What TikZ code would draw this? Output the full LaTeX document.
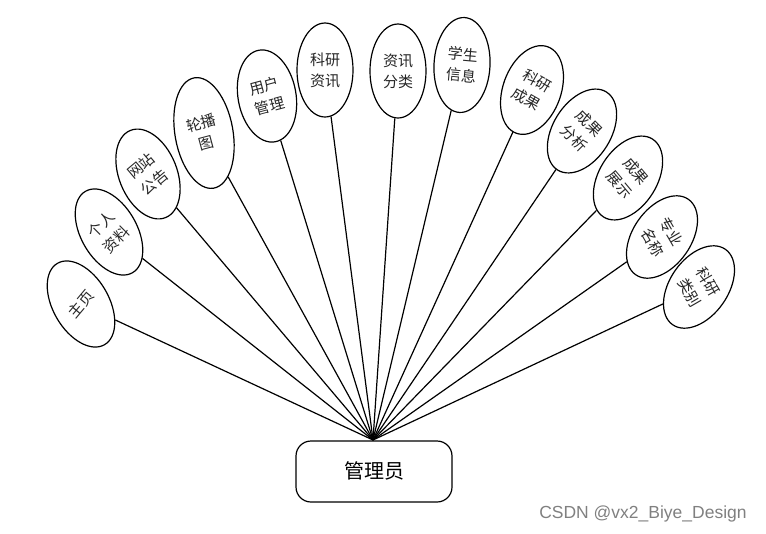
\documentclass[tikz,border=0pt]{standalone}
\usepackage{fontspec}
\newfontfamily\cjk{Noto Sans CJK SC}
\newfontfamily\wmfont{Liberation Sans}
\usetikzlibrary{shapes.geometric}
\tikzset{
  leaf/.style={draw=black, line width=1.2pt, ellipse, inner sep=0pt, fill=white},
  leaftext/.style={font=\cjk\fontsize{15}{21}\selectfont, text=black!85, align=center, inner sep=0pt},
  rootbox/.style={draw=black, line width=1.2pt, rounded corners=15pt, minimum width=156pt, minimum height=61pt, inner sep=0pt, fill=white},
  link/.style={line width=1.2pt, draw=black}
}
\begin{document}
\begin{tikzpicture}[x=1pt,y=-1pt]
\useasboundingbox (0,0) rectangle (766,533);
\node[rootbox] (root) at (374,471.5) {};
\node[font=\cjk\fontsize{20}{24}\selectfont, inner sep=0pt] (roottext) at (374,471) {管理员};
\coordinate (hub) at (373,440);
% leaves: name, position, size, tilt, text, text rotation
\foreach \n/\x/\y/\w/\h/\t/\txt/\r in {
  e1/81/304/56/94/30/{主页}/50,
  e2/109/232/56/94/30/{个人\\资料}/45,
  e3/148/174/58/94/22/{网站\\公告}/40,
  e4/204/133/58/112/10/{轮播\\图}/15,
  e5/267/96/58/93/10/{用户\\管理}/15,
  e6/325/70/56/94/0/{科研\\资讯}/0,
  e7/398/71/56/94/0/{资讯\\分类}/0,
  e8/462/65/56/95/-3/{学生\\信息}/-5,
  e9/532/90/58/92/-20/{科研\\成果}/-30,
  e10/582/131/58/92/-32/{成果\\分析}/-45,
  e11/628/178/58/92/-32/{成果\\展示}/-50,
  e12/662/237/58/92/-35/{专业\\名称}/-60,
  e13/699/287/58/92/-35/{科研\\类别}/-60}
{
  \node[leaf, minimum width=\w pt, minimum height=\h pt, rotate=\t] (\n) at (\x,\y) {};
  \node[leaftext, rotate=\r] (\n t) at (\x,\y) {\txt};
  \draw[link] (hub) -- (\n);
}
\node[font=\wmfont\fontsize{17.5}{20}\selectfont, text=black!50, inner sep=0pt] (wm) at (643,514) {CSDN @vx2\_Biye\_Design};
\end{tikzpicture}
\end{document}
